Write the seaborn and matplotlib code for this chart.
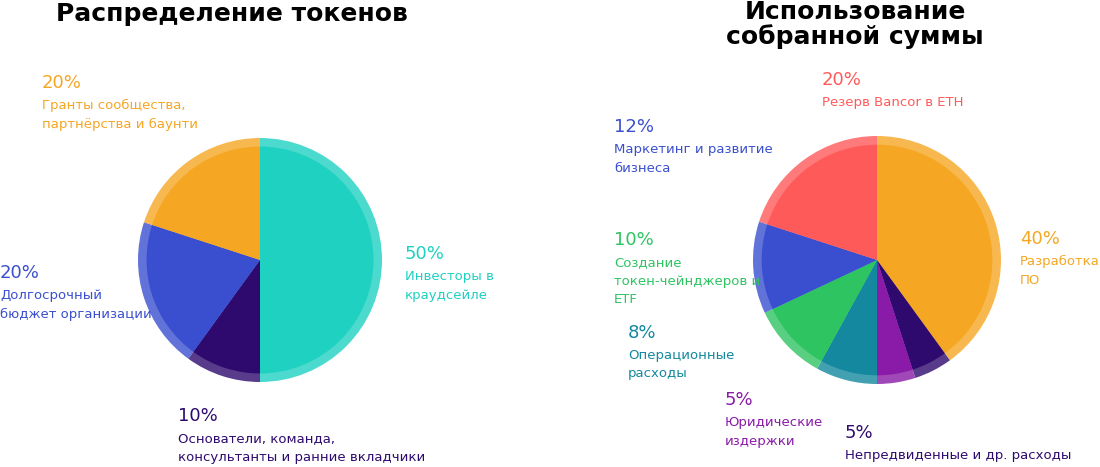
import matplotlib
matplotlib.use("Agg")
import matplotlib.pyplot as plt
import seaborn as sns

sns.set_theme(style="white")

W, H = 1100, 467

# Данные
left_labels = ["Инвесторы в\nкраудсейле", "Основатели, команда,\nконсультанты и ранние вкладчики",
               "Долгосрочный\nбюджет организации", "Гранты сообщества,\nпартнёрства и баунти"]
left_values = [50, 10, 20, 20]
left_colors = ["#1ED1C1", "#2E0A6E", "#3A4FCF", "#F5A623"]
left_pos = [(405, 245), (178, 407), (0, 264), (42, 74)]

right_labels = ["Разработка\nПО", "Непредвиденные и др. расходы", "Юридические\nиздержки",
                "Операционные\nрасходы", "Создание\nтокен-чейнджеров и\nETF",
                "Маркетинг и развитие\nбизнеса", "Резерв Bancor в ETH"]
right_values = [40, 5, 5, 8, 10, 12, 20]
right_colors = ["#F5A623", "#2E0A6E", "#8A1AA8", "#13889E", "#2EC462", "#3A4FCF", "#FF5A5A"]
right_pos = [(1020, 230), (845, 424), (725, 391), (628, 324), (614, 231), (614, 118), (822, 71)]

fig = plt.figure(figsize=(11, 4.67), dpi=100)


def draw_pie(cx, cy, r, values, colors):
    ax = fig.add_axes([(cx - r) / W, (H - cy - r) / H, 2 * r / W, 2 * r / H])
    # светлое внешнее кольцо
    ax.pie(values, colors=colors, startangle=90, counterclock=False, radius=1.0,
           wedgeprops=dict(alpha=0.8, linewidth=0))
    ax.pie(values, colors=colors, startangle=90, counterclock=False, radius=0.93,
           wedgeprops=dict(linewidth=0))
    ax.set_xlim(-1, 1)
    ax.set_ylim(-1, 1)
    ax.set_aspect("equal")
    ax.axis("off")


def draw_labels(labels, values, colors, positions):
    for lab, v, c, (x, y) in zip(labels, values, colors, positions):
        fig.text(x / W, 1 - y / H, f"{v}%", color=c, fontsize=13, va="top", ha="left")
        fig.text(x / W, 1 - (y + 25) / H, lab, color=c, fontsize=9.5, va="top", ha="left",
                 linespacing=1.55)


draw_pie(260, 260, 122, left_values, left_colors)
draw_pie(877, 260, 124, right_values, right_colors)
draw_labels(left_labels, left_values, left_colors, left_pos)
draw_labels(right_labels, right_values, right_colors, right_pos)

fig.text(232 / W, 1 - 2 / H, "Распределение токенов", fontsize=18, fontweight="bold",
         ha="center", va="top", color="black")
fig.text(855 / W, 1 - 0 / H, "Использование\nсобранной суммы", fontsize=18, fontweight="bold",
         ha="center", va="top", color="black", linespacing=1.0)

fig.savefig("out.png", dpi=100)
